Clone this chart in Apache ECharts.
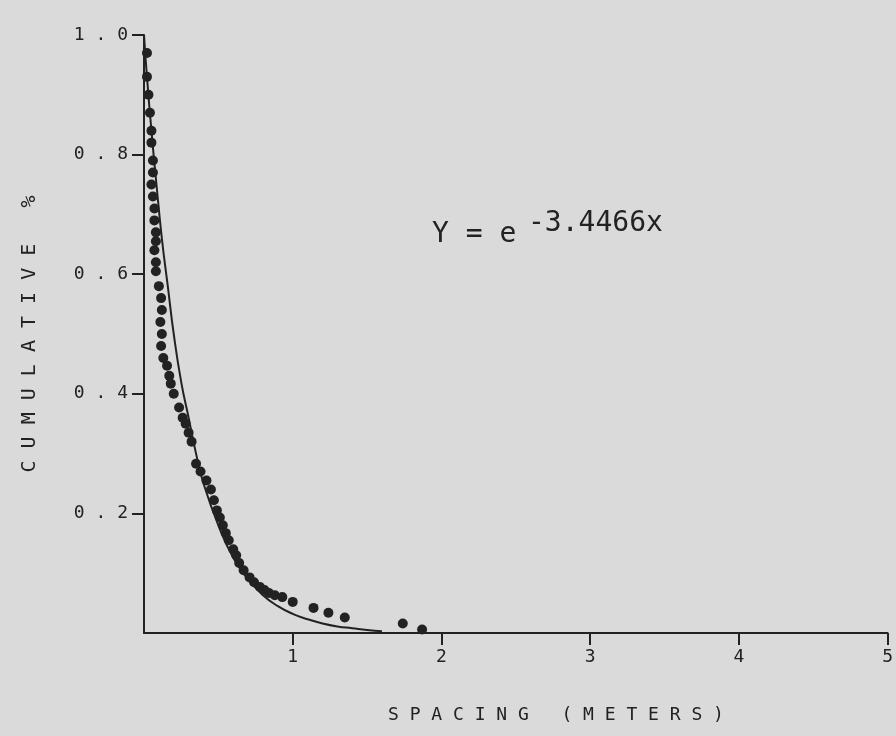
<!DOCTYPE html>
<html>
<head>
<meta charset="utf-8">
<script src="https://cdn.jsdelivr.net/npm/echarts@6/dist/echarts.min.js"></script>
<style>
  html, body { margin: 0; padding: 0; background: #dadada; }
  #chart { width: 896px; height: 736px; }
</style>
</head>
<body>
<div id="chart"></div>
<script>
// fitted curve Y = e^(-3.4466x)
const curveX = [0, 0.02, 0.05, 0.08, 0.12, 0.16, 0.2, 0.25, 0.3, 0.35, 0.4, 0.5, 0.6, 0.7, 0.8, 0.9, 1.0, 1.1, 1.2, 1.3, 1.4, 1.5, 1.6]
const curveY = [1.0, 0.93, 0.84, 0.76, 0.66, 0.58, 0.50, 0.42, 0.36, 0.30, 0.25, 0.18, 0.126, 0.09, 0.063, 0.045, 0.032, 0.023, 0.016, 0.011, 0.008, 0.005, 0.003]

// observed spacings (dots)
const spacingX = [0.02, 0.02, 0.03, 0.04, 0.05, 0.05, 0.06, 0.06, 0.05, 0.06, 0.07, 0.07, 0.08, 0.08, 0.07, 0.08, 0.08,
  0.10, 0.115, 0.12, 0.11, 0.12, 0.115, 0.13, 0.155, 0.17, 0.18, 0.20, 0.236, 0.26, 0.28, 0.30, 0.32, 0.35, 0.38,
  0.42, 0.45, 0.47, 0.49, 0.51, 0.53, 0.55, 0.57, 0.60, 0.62, 0.64, 0.67, 0.71, 0.74, 0.78, 0.81, 0.84, 0.88,
  0.93, 1.0, 1.14, 1.24, 1.35, 1.74, 1.87]
const cumulativeY = [0.97, 0.93, 0.90, 0.87, 0.84, 0.82, 0.79, 0.77, 0.75, 0.73, 0.71, 0.69, 0.67, 0.655, 0.64, 0.62, 0.605,
  0.58, 0.56, 0.54, 0.52, 0.50, 0.48, 0.46, 0.447, 0.43, 0.417, 0.40, 0.377, 0.36, 0.35, 0.335, 0.32, 0.283, 0.27,
  0.255, 0.24, 0.222, 0.205, 0.193, 0.18, 0.167, 0.155, 0.14, 0.13, 0.117, 0.105, 0.093, 0.085, 0.077, 0.072, 0.067, 0.063,
  0.06, 0.052, 0.042, 0.034, 0.026, 0.016, 0.006]

// tick marks / labels
const xTickValues = [1, 2, 3, 4, 5]
const yTickValues = [0.2, 0.4, 0.6, 0.8, 1.0]

const ink = '#222'
const mono = '"DejaVu Sans Mono", monospace'
const spaced = s => s.split('').join(' ')

const chart = echarts.init(document.getElementById('chart'))
chart.setOption({
  backgroundColor: '#dadada',
  animation: false,
  grid: { left: 144, right: 5, top: 35, bottom: 103 },
  xAxis: {
    type: 'value',
    min: 0,
    max: 5,
    interval: 1,
    splitLine: { show: false },
    axisLine: { lineStyle: { color: ink, width: 2 } },
    axisTick: { length: 12, customValues: xTickValues, lineStyle: { color: ink, width: 2 } },
    axisLabel: {
      margin: 15,
      color: ink,
      fontFamily: mono,
      fontSize: 18,
      customValues: xTickValues,
      formatter: v => String(v),
    },
  },
  yAxis: {
    type: 'value',
    min: 0,
    max: 1,
    interval: 0.2,
    name: spaced('CUMULATIVE') + '   %',
    nameLocation: 'middle',
    nameGap: 104,
    nameTextStyle: { color: ink, fontFamily: mono, fontSize: 20 },
    splitLine: { show: false },
    axisLine: { lineStyle: { color: ink, width: 2 } },
    axisTick: { length: 12, customValues: yTickValues, lineStyle: { color: ink, width: 2 } },
    axisLabel: {
      margin: 16,
      color: ink,
      fontFamily: mono,
      fontSize: 18,
      customValues: yTickValues,
      formatter: v => spaced(v.toFixed(1)),
    },
  },
  graphic: [
    {
      type: 'text',
      left: 388,
      top: 706,
      style: { text: spaced('SPACING') + '   ' + spaced('(METERS)'), font: '18px ' + mono, fill: ink },
    },
    {
      type: 'text',
      left: 432,
      top: 221,
      style: { text: 'Y = e', font: '28px ' + mono, fill: ink },
    },
    {
      type: 'text',
      left: 528,
      top: 210,
      style: { text: '-3.4466x', font: '28px ' + mono, fill: ink },
    },
  ],
  series: [
    {
      type: 'line',
      data: curveX.map((x, i) => [x, curveY[i]]),
      smooth: true,
      showSymbol: false,
      lineStyle: { color: ink, width: 2 },
    },
    {
      type: 'scatter',
      data: spacingX.map((x, i) => [x, cumulativeY[i]]),
      symbolSize: 10,
      itemStyle: { color: ink, opacity: 1 },
    },
  ],
})
</script>
</body>
</html>
